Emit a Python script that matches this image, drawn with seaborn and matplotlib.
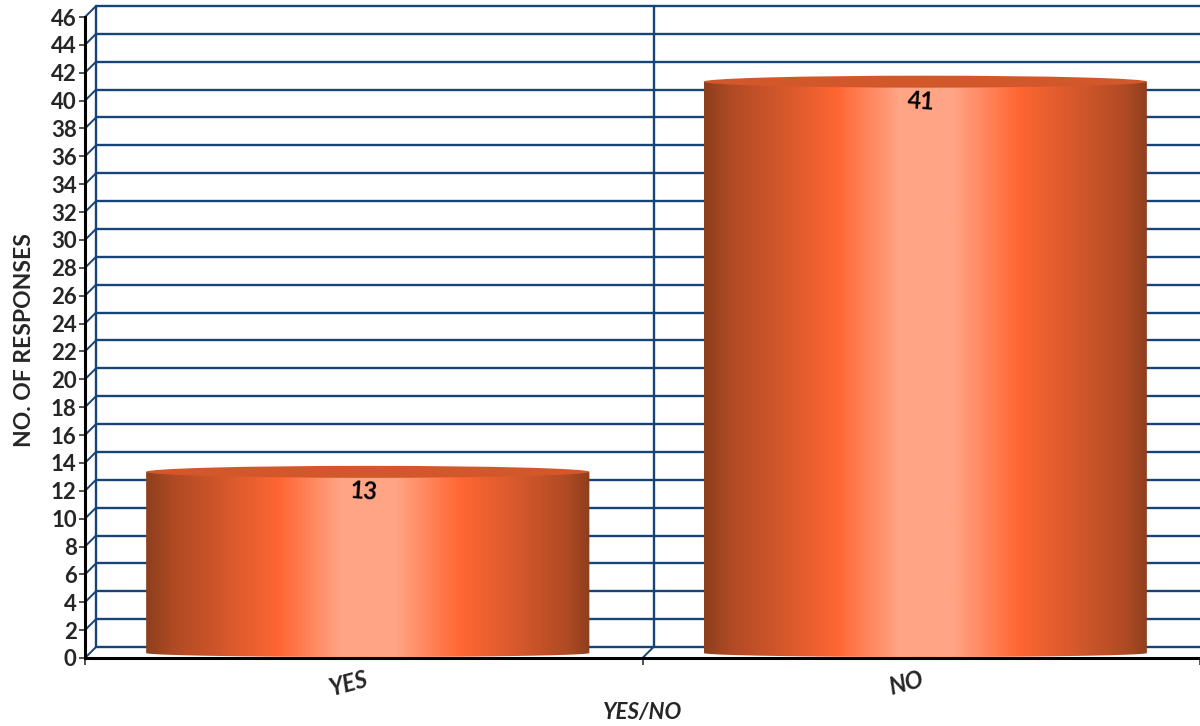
import numpy as np
import pandas as pd
import matplotlib
matplotlib.use('Agg')
import matplotlib.pyplot as plt
from matplotlib.colors import LinearSegmentedColormap
from matplotlib.patches import Ellipse, PathPatch
from matplotlib.path import Path
from matplotlib.transforms import ScaledTranslation
import seaborn as sns

answers = ['YES', 'NO']
responses = [13, 41]
y_ticks = list(range(0, 47, 2))

navy = '#174477'
sns.set_theme(style='white')
plt.rcParams['font.family'] = ['Lato', 'DejaVu Sans']
plt.rcParams['font.weight'] = 'bold'

df = pd.DataFrame({'answer': answers, 'responses': responses})

fig = plt.figure(figsize=(12, 7.26), dpi=100)
ax = fig.add_axes([85 / 1200, 68 / 726, 1115 / 1200, 641 / 726])
sns.barplot(data=df, x='answer', y='responses', width=0.795, color='#D2582B', ax=ax, zorder=3)
ax.set_xlim(-0.5, 1.5)
ax.set_ylim(0, 46)


# offsets in px, figure is 100 dpi
def shift(dx, dy):
    return ScaledTranslation(dx / 100, dy / 100, fig.dpi_scale_trans)


back = ax.transData + shift(11, 11)
bar_tr = ax.transData + shift(4, 5)

# back wall
for v in y_ticks:
    ax.plot([-0.5, 1.5], [v, v], color=navy, lw=1.7, transform=back, clip_on=False, zorder=1)
for x in [-0.5, 0.5]:
    ax.plot([x, x], [0, 46], color=navy, lw=1.7, transform=back, clip_on=False, zorder=1)

# side wall and floor connectors
px_per_unit_y = 641 / 46
px_per_unit_x = 1115 / 2
for v in y_ticks:
    ax.plot([-0.5, -0.5 + 11 / px_per_unit_x], [v, v + 11 / px_per_unit_y], color=navy, lw=1.4,
            clip_on=False, zorder=1)
ax.plot([0.5, 0.5 + 11 / px_per_unit_x], [0, 11 / px_per_unit_y], color=navy, lw=1.4, clip_on=False, zorder=1)

# cylinder shading
cyl = LinearSegmentedColormap.from_list('cyl', [
    (0.0, '#8E3F1E'), (0.06, '#B04A24'), (0.17, '#D2572B'), (0.30, '#FF6633'),
    (0.44, '#FFA586'), (0.56, '#FFA586'), (0.71, '#FF6633'), (0.85, '#D2572B'),
    (0.95, '#B04A24'), (1.0, '#8E3F1E')])
grad = np.linspace(0, 1, 256).reshape(1, -1)
bottom_h = 4 / px_per_unit_y
top_h = 12 / px_per_unit_y

for p, val in zip(list(ax.patches), responses):
    x0, w, top = p.get_x(), p.get_width(), p.get_height()
    p.set_visible(False)
    t = np.linspace(0, np.pi, 60)
    xs = x0 + w / 2 + w / 2 * np.cos(t)
    ys = -bottom_h * np.sin(t)
    verts = [(x0, top), (x0 + w, top)] + list(zip(xs, ys)) + [(x0, top)]
    codes = [Path.MOVETO] + [Path.LINETO] * (len(verts) - 2) + [Path.CLOSEPOLY]
    body = PathPatch(Path(verts, codes), transform=bar_tr, fc='none', ec='none')
    ax.add_patch(body)
    im = ax.imshow(grad, extent=[x0, x0 + w, -bottom_h, top], aspect='auto', cmap=cyl,
                   transform=bar_tr, zorder=3, interpolation='bilinear')
    im.set_clip_path(body)
    lid = Ellipse((x0 + w / 2, top), w, top_h, transform=bar_tr, fc='#D2582B', ec='none', zorder=4)
    ax.add_patch(lid)
    ax.annotate(str(val), xy=(x0 + w / 2, top), xytext=(0, -10.5), textcoords='offset points', ha='center',
                va='center', fontsize=17, color='black', rotation=-4, zorder=5)

ax.set_xlim(-0.5, 1.5)
ax.set_ylim(0, 46)
sns.despine(ax=ax, top=True, right=True)
for s in ['left', 'bottom']:
    ax.spines[s].set_color('black')
    ax.spines[s].set_linewidth(2.2)
    ax.spines[s].set_zorder(6)

ax.set_yticks(y_ticks)
ax.tick_params(axis='y', length=4, width=1.2, color='#333333', left=True, labelsize=16, pad=2)
ax.set_xticks([0, 1], answers, rotation=15, fontsize=17, fontstyle='italic')
ax.tick_params(axis='x', bottom=False, pad=1)
for lab in ax.get_xticklabels():
    lab.set_transform(lab.get_transform() + shift(-15, 0))
ax.set_xticks([-0.5, 0.5, 1.5], minor=True)
ax.tick_params(axis='x', which='minor', bottom=True, length=5, width=1.2, color='#333333')
ax.set_xlabel('YES/NO', fontsize=16, fontstyle='italic', fontweight='bold')
ax.xaxis.set_label_coords(0.5, -0.068)
ax.set_ylabel('NO. OF RESPONSES', fontsize=16.5, fontweight='bold')
ax.yaxis.set_label_coords(-50 / 1115, 0.5 - 3 / 641)
ax.grid(False)

fig.savefig('out.png', dpi=100)
